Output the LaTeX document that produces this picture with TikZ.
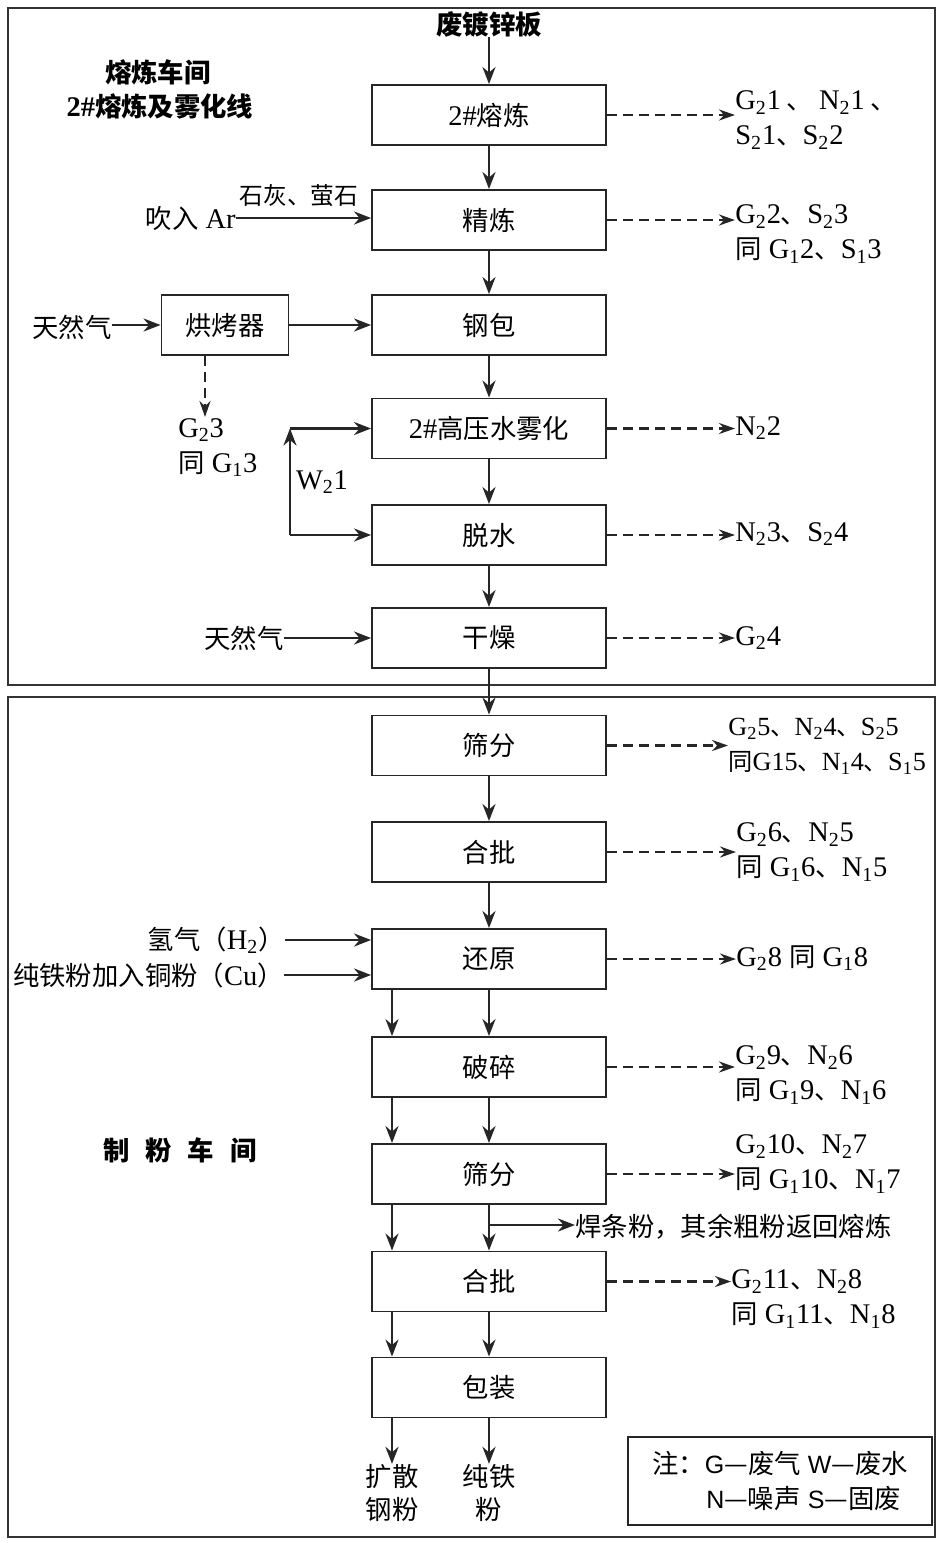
\documentclass[tikz,border=0pt]{standalone}
\usepackage{fontspec}
\setmainfont{Liberation Serif}[Scale=1.08]
\newfontfamily\cjk{Noto Sans CJK SC}
\newfontfamily\lsans{Liberation Sans}[Scale=0.95]
\usetikzlibrary{arrows.meta}
\newcommand\zh[1]{{\cjk #1}}
\newcommand\sub[1]{\textsubscript{#1}}
\tikzset{
  box/.style={draw=black!85, line width=1.1pt, minimum width=4.68cm, minimum height=1.2cm, inner sep=0pt},
  arr/.style={line width=1.5pt, draw=black!85, -{Stealth[length=0.34cm,width=0.26cm]}},
  darr/.style={line width=1.5pt, draw=black!85, dash pattern=on 0.2cm off 0.12cm, -{Stealth[length=0.32cm,width=0.22cm]}},
  lbl/.style={anchor=west, align=left, inner sep=0pt},
  frm/.style={line width=1.4pt, draw=black!80},
  plain/.style={inner sep=0pt}
}
\begin{document}
\begin{tikzpicture}[x=0.02cm,y=-0.02cm, font=\fontsize{15}{20}\selectfont]
\useasboundingbox (0,0) rectangle (937,1543);
% frames
\draw[frm] (8,8) rectangle (935,685);
\draw[frm] (8,697) rectangle (935,1537);

% section labels
\node[plain] (s1) at (158,72) {\zh{\bfseries 熔炼车间}};
\node[plain] (s2) at (160,106) {\bfseries 2\#\zh{\bfseries 熔炼及雾化线}};
\node[plain] (s3) at (180,1150) {\zh{\bfseries 制\hspace{0.6em}粉\hspace{0.6em}车\hspace{0.6em}间}};

% main boxes
\node[box] (b1) at (489,115) {2\#\zh{熔炼}};
\node[box] (b2) at (489,220) {\zh{精炼}};
\node[box] (b3) at (489,325) {\zh{钢包}};
\node[box] (b4) at (489,428.5) {2\#\zh{高压水雾化}};
\node[box] (b5) at (489,535) {\zh{脱水}};
\node[box] (b6) at (489,638) {\zh{干燥}};
\node[box] (c1) at (489,745.5) {\zh{筛分}};
\node[box] (c2) at (489,852) {\zh{合批}};
\node[box] (c3) at (489,959) {\zh{还原}};
\node[box] (c4) at (489,1067) {\zh{破碎}};
\node[box] (c5) at (489,1174) {\zh{筛分}};
\node[box] (c6) at (489,1281.5) {\zh{合批}};
\node[box] (c7) at (489,1387.5) {\zh{包装}};

% top input
\node[plain] (t0) at (489,24) {\zh{\bfseries 废镀锌板}};
\draw[arr] (t0) -- (b1);

% main chain
\draw[arr] (b1) -- (b2);
\draw[arr] (b2) -- (b3);
\draw[arr] (b3) -- (b4);
\draw[arr] (b4) -- (b5);
\draw[arr] (b5) -- (b6);
\draw[arr] (b6) -- (c1);
\draw[arr] (c1) -- (c2);
\draw[arr] (c2) -- (c3);
\draw[arr] (c3) -- (c4);
\draw[arr] (c4) -- (c5);
\draw[arr] (c5) -- (c6);
\draw[arr] (c6) -- (c7);
\coordinate (xl) at (392,0);
\draw[arr] (c3.south -| xl) -- (c4.north -| xl);
\draw[arr] (c4.south -| xl) -- (c5.north -| xl);
\draw[arr] (c5.south -| xl) -- (c6.north -| xl);
\draw[arr] (c6.south -| xl) -- (c7.north -| xl);

% outputs
\node[plain, align=center] (o1) at (392,1493) {\zh{扩散}\\[-1pt]\zh{钢粉}};
\node[plain, align=center] (o2) at (489,1493) {\zh{纯铁}\\[-1pt]\zh{粉}};
\draw[arr] (c7.south -| xl) -- (o1.north);
\draw[arr] (c7.south) -- (o2.north);

% left inputs
\node[plain, anchor=east] (ar) at (236,218) {\zh{吹入} Ar};
\draw[arr] (ar.east) -- (ar.east -| b2.west);
\node[plain, font=\fontsize{13.5}{16}\selectfont] (lime) at (299,196) {\zh{石灰、萤石}};

\node[box, minimum width=2.54cm] (bk) at (225,325) {\zh{烘烤器}};
\node[plain, anchor=east] (ng1) at (112,327) {\zh{天然气}};
\draw[arr] (ng1.east |- bk) -- (bk.west);
\draw[arr] (bk.east) -- (bk.east -| b3.west);
\coordinate (gx) at (205,417);
\draw[darr] (bk.south -| gx) -- (gx);
\node[lbl, anchor=north west] (g23) at (178,418) {G\sub{2}3\\\zh{同} G\sub{1}3};

\coordinate (w1) at (290,428.5);
\coordinate (w2) at (290,535);
\draw[arr] (w2) -- (w1);
\draw[arr] (w1) -- (w1 -| b4.west);
\draw[arr] (w2) -- (w2 -| b5.west);
\node[plain] (w21) at (322,482) {W\sub{2}1};

\node[plain, anchor=east] (ng2) at (284,638) {\zh{天然气}};
\draw[arr] (ng2.east) -- (ng2.east -| b6.west);

\node[plain, anchor=east] (h2) at (285,940) {\zh{氢气（}H\sub{2}\zh{）}};
\draw[arr] (h2.east) -- (h2.east -| c3.west);
\node[plain, anchor=east] (cu) at (284,975) {\zh{纯铁粉加入铜粉（}Cu\zh{）}};
\draw[arr] (cu.east) -- (cu.east -| c3.west);

% right emission labels
\node[lbl] (L1) at (735,120) {G\sub{2}1\zh{ 、 }N\sub{2}1\zh{ 、}\\S\sub{2}1\zh{、}S\sub{2}2};
\draw[darr] (b1.east) -- (b1.east -| L1.west);
\node[lbl] (L2) at (735,234) {G\sub{2}2\zh{、}S\sub{2}3\\\zh{同} G\sub{1}2\zh{、}S\sub{1}3};
\draw[darr] (b2.east) -- (b2.east -| L2.west);
\node[lbl] (L4) at (735,428) {N\sub{2}2};
\draw[darr] (b4.east) -- (b4.east -| L4.west);
\node[lbl] (L5) at (735,534) {N\sub{2}3\zh{、}S\sub{2}4};
\draw[darr] (b5.east) -- (b5.east -| L5.west);
\node[lbl] (L6) at (735,638) {G\sub{2}4};
\draw[darr] (b6.east) -- (b6.east -| L6.west);
\node[lbl, font=\fontsize{13.8}{20}\selectfont] (M1) at (728,746) {G\sub{2}5\zh{、}N\sub{2}4\zh{、}S\sub{2}5\\\zh{同}G15\zh{、}N\sub{1}4\zh{、}S\sub{1}5};
\draw[darr] (c1.east) -- (c1.east -| M1.west);
\node[lbl] (M2) at (736,852) {G\sub{2}6\zh{、}N\sub{2}5\\\zh{同} G\sub{1}6\zh{、}N\sub{1}5};
\draw[darr] (c2.east) -- (c2.east -| M2.west);
\node[lbl] (M3) at (736,958) {G\sub{2}8 \zh{同} G\sub{1}8};
\draw[darr] (c3.east) -- (c3.east -| M3.west);
\node[lbl] (M4) at (735,1075) {G\sub{2}9\zh{、}N\sub{2}6\\\zh{同} G\sub{1}9\zh{、}N\sub{1}6};
\draw[darr] (c4.east) -- (c4.east -| M4.west);
\node[lbl] (M5) at (735,1164) {G\sub{2}10\zh{、}N\sub{2}7\\\zh{同} G\sub{1}10\zh{、}N\sub{1}7};
\draw[darr] (c5.east) -- (c5.east -| M5.west);
\node[lbl] (M6) at (731,1299) {G\sub{2}11\zh{、}N\sub{2}8\\\zh{同} G\sub{1}11\zh{、}N\sub{1}8};
\draw[darr] (c6.east) -- (c6.east -| M6.west);

% by-product
\coordinate (hj0) at (489,1225);
\node[lbl] (hj) at (575,1227) {\zh{焊条粉，其余粗粉返回熔炼}};
\draw[arr] (hj0) -- (hj0 -| hj.west);

% legend
\node[draw=black!85, line width=1.1pt, minimum width=6.08cm, minimum height=1.76cm, align=left, inner sep=0pt] (leg) at (780,1481)
 {\zh{注：}{\lsans G}\zh{—废气} {\lsans W}\zh{—废水}\\\hspace*{1.9em}{\lsans N}\zh{—噪声} {\lsans S}\zh{—固废}};
\end{tikzpicture}
\end{document}
